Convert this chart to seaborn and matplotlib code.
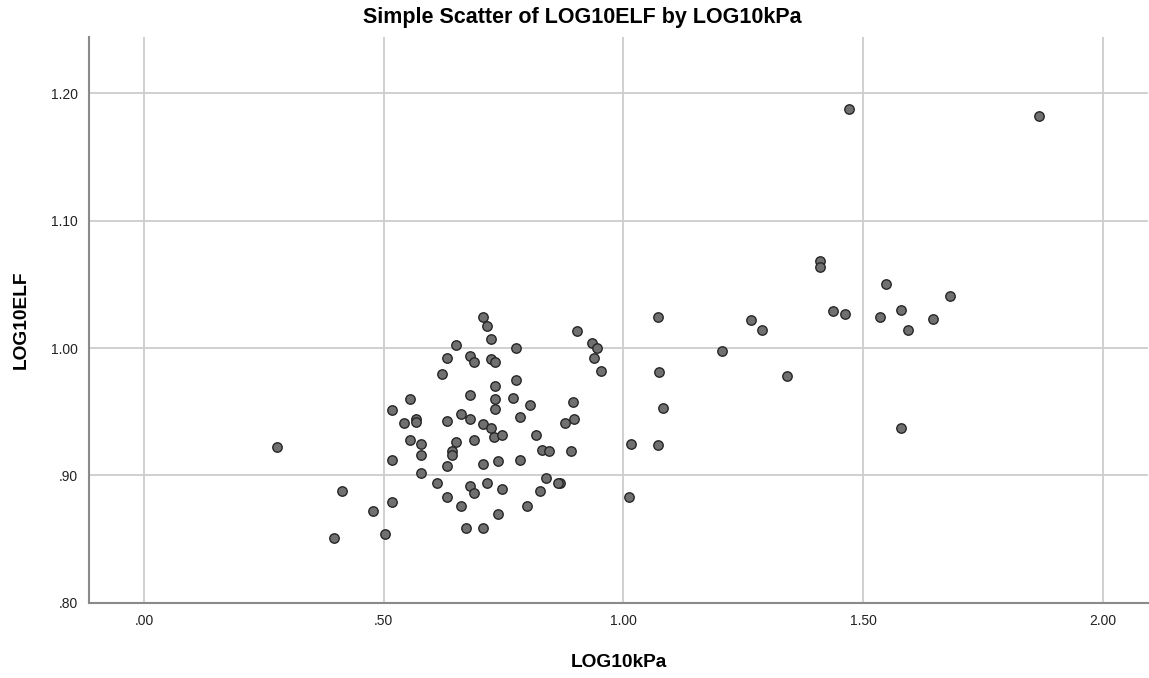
import matplotlib
matplotlib.use("Agg")
import matplotlib.pyplot as plt
import seaborn as sns
import pandas as pd

# LOG10kPa values
log10_kpa = [
    1.470, 1.867, 1.409, 1.409, 1.547, 1.681, 1.438, 1.463, 1.579, 1.535,
    1.593, 1.646, 1.267, 1.289, 1.342, 1.579,
    1.071, 1.205, 0.902, 0.934, 0.945, 0.938, 0.953, 1.074, 0.895, 1.082,
    0.897, 0.879, 0.891, 1.016, 1.071, 0.868, 1.011,
    0.706, 0.715, 0.723, 0.651, 0.776, 0.632, 0.679, 0.689, 0.723, 0.732,
    0.621, 0.776, 0.731, 0.680, 0.731, 0.770, 0.805, 0.554, 0.517, 0.731,
    0.784, 0.660, 0.680, 0.542, 0.567, 0.567, 0.631, 0.706, 0.723, 0.730,
    0.747, 0.818, 0.689, 0.554, 0.578, 0.651, 0.831, 0.845, 0.642, 0.642,
    0.578, 0.517, 0.784, 0.739, 0.706, 0.631, 0.578, 0.838, 0.611, 0.715,
    0.680, 0.689, 0.747, 0.863, 0.825, 0.631, 0.517, 0.477, 0.660, 0.798,
    0.739, 0.671, 0.706, 0.503, 0.277, 0.413, 0.396,
]

# LOG10ELF values
log10_elf = [
    1.188, 1.182, 1.068, 1.064, 1.050, 1.041, 1.029, 1.027, 1.030, 1.024,
    1.014, 1.023, 1.022, 1.014, 0.978, 0.937,
    1.024, 0.998, 1.013, 1.004, 1.000, 0.992, 0.982, 0.981, 0.958, 0.953,
    0.944, 0.941, 0.919, 0.925, 0.924, 0.894, 0.883,
    1.024, 1.017, 1.007, 1.002, 1.000, 0.992, 0.994, 0.989, 0.991, 0.989,
    0.980, 0.975, 0.970, 0.963, 0.960, 0.961, 0.955, 0.960, 0.951, 0.952,
    0.946, 0.948, 0.944, 0.941, 0.944, 0.942, 0.943, 0.940, 0.937, 0.930,
    0.932, 0.932, 0.928, 0.928, 0.925, 0.926, 0.920, 0.919, 0.919, 0.916,
    0.916, 0.912, 0.912, 0.911, 0.909, 0.907, 0.902, 0.898, 0.894, 0.894,
    0.892, 0.886, 0.889, 0.894, 0.888, 0.883, 0.879, 0.872, 0.876, 0.876,
    0.870, 0.859, 0.859, 0.854, 0.922, 0.888, 0.851,
]

x_ticks = [0.0, 0.5, 1.0, 1.5, 2.0]
x_tick_labels = [".00", ".50", "1.00", "1.50", "2.00"]
y_ticks = [0.8, 0.9, 1.0, 1.1, 1.2]
y_tick_labels = [".80", ".90", "1.00", "1.10", "1.20"]

df = pd.DataFrame({"LOG10kPa": log10_kpa, "LOG10ELF": log10_elf})

sns.set_style("white")
plt.rcParams["font.family"] = ["Liberation Sans", "DejaVu Sans"]

fig = plt.figure(figsize=(11.49, 6.78), dpi=100)
ax = fig.add_axes([0.0775, 0.111, 0.9215, 0.834])

sns.scatterplot(data=df, x="LOG10kPa", y="LOG10ELF", ax=ax,
                color="#707070", edgecolor="#262626", linewidth=1.0,
                s=46, alpha=1, zorder=3)

ax.set_xlim(-0.115, 2.094)
ax.set_ylim(0.80, 1.244)
ax.set_xticks(x_ticks)
ax.set_xticklabels(x_tick_labels)
ax.set_yticks(y_ticks)
ax.set_yticklabels(y_tick_labels)
ax.grid(True, color="#cdcdcd", linewidth=1.3, zorder=0)
ax.set_axisbelow(True)
ax.tick_params(axis="both", length=0, labelsize=10, colors="#222222", pad=8)

for side in ["top", "right"]:
    ax.spines[side].set_visible(False)
for side in ["left", "bottom"]:
    ax.spines[side].set_color("#8a8a8a")
    ax.spines[side].set_linewidth(1.5)

ax.set_xlabel("LOG10kPa", fontsize=13.8, fontweight="bold", color="black",
              labelpad=19)
ax.set_ylabel("LOG10ELF", fontsize=13.8, fontweight="bold", color="black",
              labelpad=15)
# title sits a bit left of the axes centre, as in the original
ax.set_title("Simple Scatter of LOG10ELF by LOG10kPa", fontsize=15.5,
             fontweight="bold", color="black", pad=10, x=0.4655)

fig.savefig("out.png", dpi=100)
